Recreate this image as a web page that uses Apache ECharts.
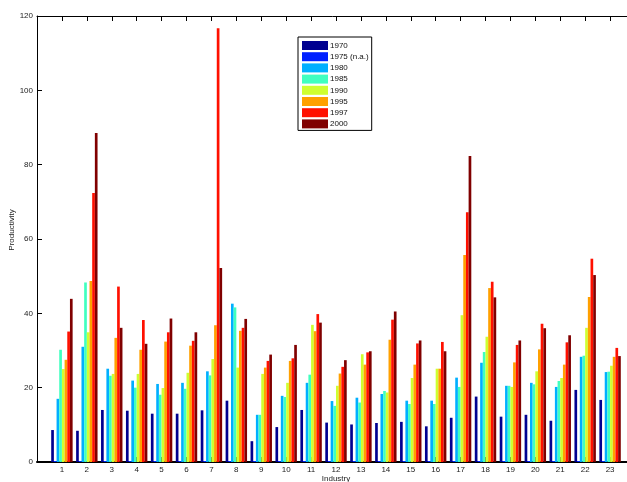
<!DOCTYPE html>
<html>
<head>
<meta charset="utf-8">
<script src="https://cdn.jsdelivr.net/npm/echarts@6/dist/echarts.min.js"></script>
<style>
html,body{margin:0;padding:0;background:#fff;}
#chart{width:627px;height:482px;}
</style>
</head>
<body>
<div id="chart"></div>
<script>
var industries = ['1','2','3','4','5','6','7','8','9','10','11','12','13','14','15','16','17','18','19','20','21','22','23'];
var seriesNames = ['1970','1975 (n.a.)','1980','1985','1990','1995','1997','2000'];
var colors = ['#000090','#0020FF','#00AFFF','#40FFBF','#CFFF30','#FFA000','#FF1000','#800000'];
var yTicks = [0,20,40,60,80,100,120];

var v1970 = [8.6, 8.4, 14.0, 13.8, 13.0, 13.0, 13.9, 16.5, 5.6, 9.4, 14.0, 10.6, 10.1, 10.5, 10.8, 9.6, 11.9, 17.6, 12.2, 12.7, 11.1, 19.4, 16.7];
var v1975 = [0,0,0,0,0,0,0,0,0,0,0,0,0,0,0,0,0,0,0,0,0,0,0];
var v1980 = [17.0, 31.0, 25.1, 21.9, 21.0, 21.3, 24.4, 42.6, 12.7, 17.8, 21.3, 16.4, 17.3, 18.3, 16.5, 16.5, 22.7, 26.7, 20.5, 21.3, 20.2, 28.3, 24.2];
var v1985 = [30.2, 48.3, 23.2, 20.0, 18.1, 19.7, 23.3, 41.6, 12.7, 17.5, 23.5, 15.1, 16.0, 19.1, 15.6, 15.6, 20.2, 29.6, 20.5, 20.9, 21.8, 28.6, 24.3];
var v1990 = [25.0, 34.9, 23.7, 23.7, 19.9, 24.0, 27.7, 25.4, 23.7, 21.3, 36.9, 20.5, 29.0, 18.7, 22.6, 25.1, 39.5, 33.7, 20.2, 24.4, 22.6, 36.1, 25.9];
var v1995 = [27.5, 48.7, 33.4, 30.2, 32.4, 31.3, 36.8, 35.3, 25.4, 27.2, 35.2, 23.8, 26.2, 32.9, 26.2, 25.1, 55.7, 46.8, 26.8, 30.3, 26.2, 44.4, 28.3];
var v1997 = [35.1, 72.4, 47.2, 38.2, 34.9, 32.6, 116.7, 36.1, 27.2, 27.9, 39.8, 25.6, 29.5, 38.3, 31.9, 32.3, 67.2, 48.5, 31.5, 37.2, 32.2, 54.7, 30.7];
var v2000 = [43.9, 88.5, 36.1, 31.8, 38.6, 34.9, 52.2, 38.5, 28.9, 31.5, 37.5, 27.4, 29.8, 40.5, 32.7, 29.8, 82.3, 44.3, 32.7, 36.0, 34.1, 50.3, 28.5];

var allValues = [v1970, v1975, v1980, v1985, v1990, v1995, v1997, v2000];

// axis runs from position 0 to 24 (industries at 1..23)
var cats = [''].concat(industries).concat(['']);
function pad(arr){ return [null].concat(arr).concat([null]); }

var FONT = "'Liberation Sans', Arial, Helvetica, sans-serif";
var series = seriesNames.map(function(name, i){
  return {
    name: name,
    type: 'bar',
    data: pad(allValues[i]),
    itemStyle: {color: colors[i]},
    barGap: '0%',
    barCategoryGap: '14%',
    barMinHeight: i === 1 ? 1 : 0,
    xAxisIndex: 0,
    animation: false
  };
});

var chart = echarts.init(document.getElementById('chart'), null, {renderer: 'canvas'});
var tickShow = function(idx){ return idx >= 1 && idx <= 23; };
chart.setOption({
  backgroundColor: '#fff',
  animation: false,
  textStyle: {fontFamily: FONT},
  grid: {left: 37, top: 16, bottom: 20, right: -8, containLabel: false, outerBoundsMode: 'none'},
  legend: {
    orient: 'vertical',
    left: 298, top: 37,
    data: seriesNames,
    icon: 'rect',
    itemWidth: 26, itemHeight: 9, itemGap: 2.2,
    padding: [4, 3, 2, 4],
    borderColor: '#000', borderWidth: 1,
    backgroundColor: '#fff',
    textStyle: {fontSize: 8, color: '#111', fontFamily: FONT, padding: [0,0,0,-3]},
    selectedMode: false
  },
  xAxis: [{
    type: 'category',
    data: cats,
    boundaryGap: false,
    position: 'bottom',
    name: 'Industry',
    nameLocation: 'middle',
    nameGap: 13,
    nameMoveOverlap: false,
    nameTextStyle: {fontSize: 8, color: '#222', fontFamily: FONT, verticalAlign: 'top'},
    axisLine: {show: true, lineStyle: {color: '#000', width: 2}},
    axisTick: {show: true, inside: true, length: 5, interval: tickShow, lineStyle: {color: '#000'}},
    axisLabel: {show: true, interval: tickShow, fontSize: 8, color: '#222', margin: 4, fontFamily: FONT},
    splitLine: {show: false}
  }, {
    type: 'category',
    data: cats,
    boundaryGap: false,
    position: 'top',
    axisLine: {show: true, lineStyle: {color: '#000', width: 1}},
    axisTick: {show: true, inside: true, length: 5, interval: tickShow, lineStyle: {color: '#000'}},
    axisLabel: {show: false},
    splitLine: {show: false}
  }],
  yAxis: {
    type: 'value',
    min: yTicks[0], max: yTicks[yTicks.length-1], interval: 20,
    name: 'Productivity',
    nameLocation: 'middle',
    nameGap: 25,
    nameRotate: 90,
    nameMoveOverlap: false,
    nameTextStyle: {fontSize: 8, color: '#222', fontFamily: FONT, verticalAlign: 'middle', padding: [0,0,0,18]},
    axisLine: {show: true, lineStyle: {color: '#000', width: 1}},
    axisTick: {show: true, inside: true, length: 5, lineStyle: {color: '#000'}},
    axisLabel: {fontSize: 8, color: '#222', margin: 4, fontFamily: FONT},
    splitLine: {show: false}
  },
  series: series
});
</script>
</body>
</html>
